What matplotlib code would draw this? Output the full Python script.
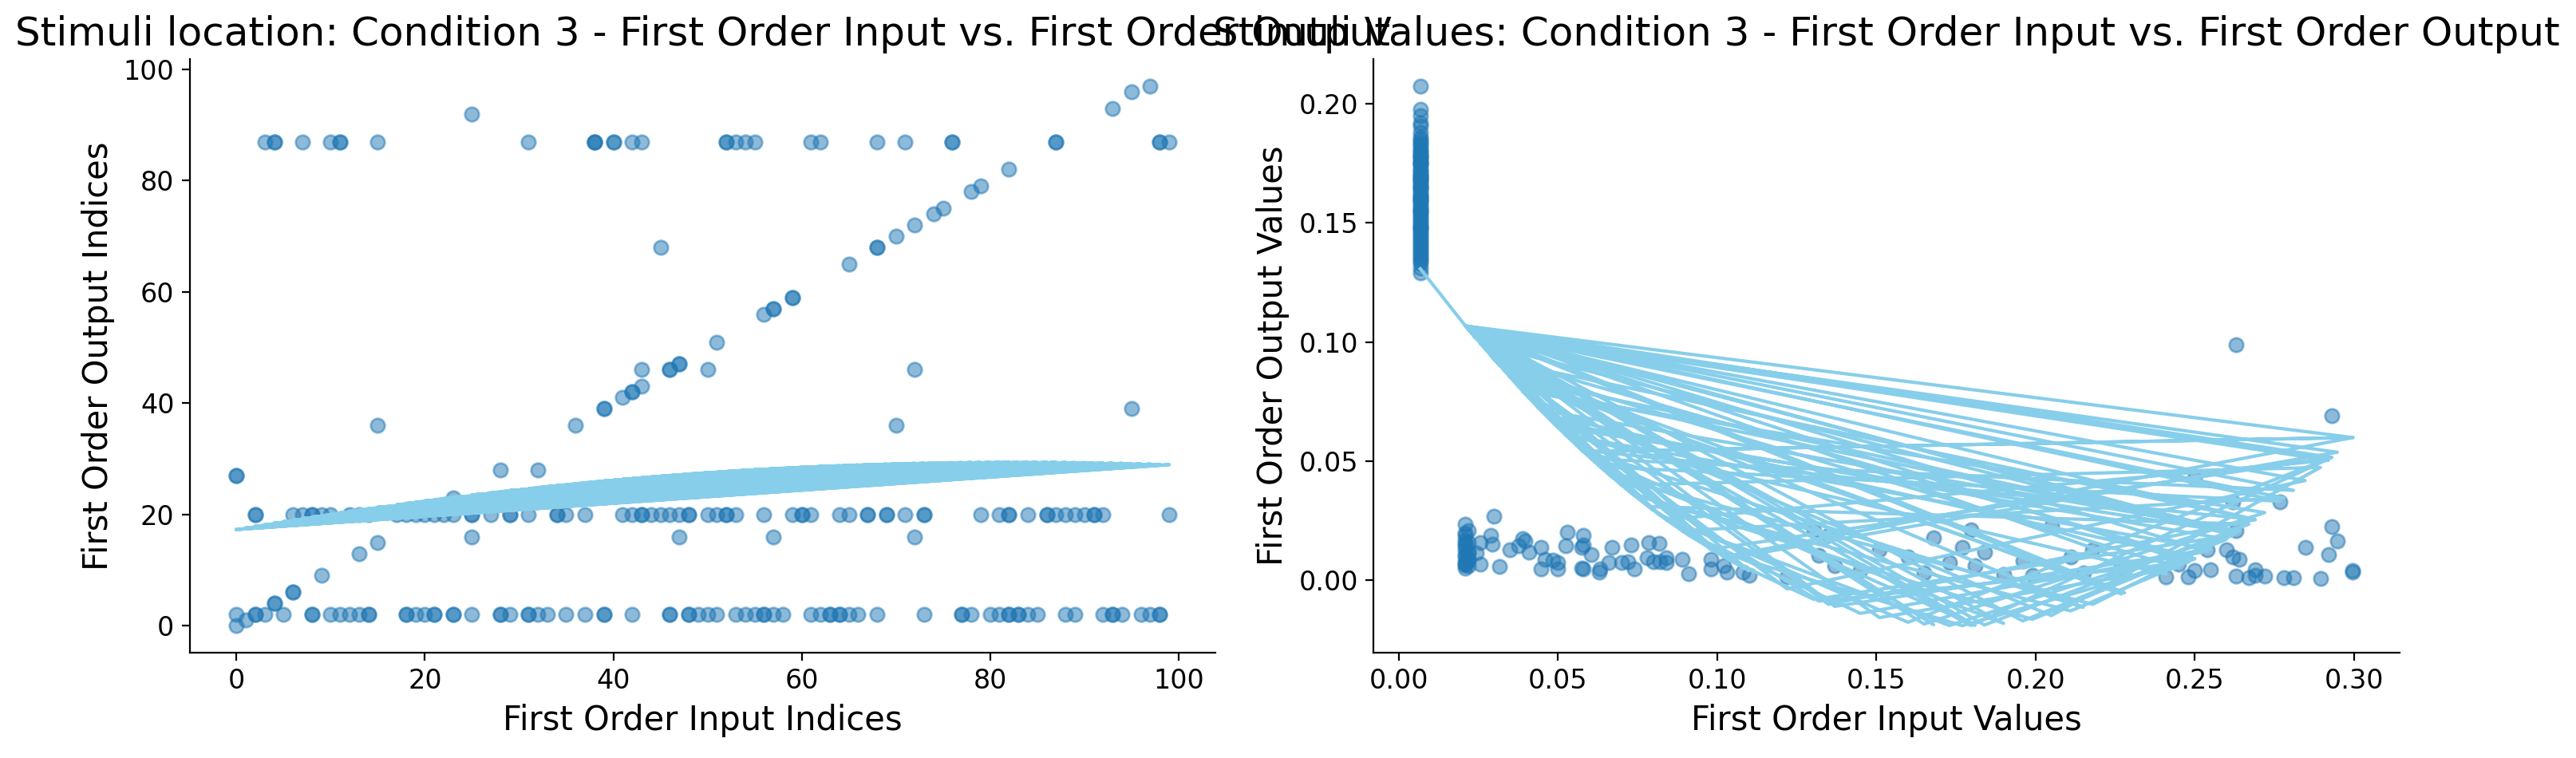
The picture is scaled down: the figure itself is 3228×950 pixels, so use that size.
import matplotlib
matplotlib.use("Agg")
import matplotlib.pyplot as plt
import numpy as np

# ---- left panel: stimuli location (indices) ----
# points on the y = 87 row
row87_x = [3, 4, 4, 7, 10, 11, 11, 15, 31, 38, 38, 38, 40, 40, 42, 43, 52, 52, 53, 54,
           55, 61, 62, 68, 71, 76, 76, 87, 87, 98, 98, 99]
# points on the y = 20 row
row20_x = [2, 2, 6, 7, 8, 8, 9, 10, 12, 13, 14, 17, 18, 19, 20, 21, 22, 23, 25, 25,
           27, 29, 29, 31, 34, 34, 35, 37, 41, 42, 43, 43, 44, 45, 46, 47, 48, 48, 50, 51,
           52, 52, 53, 56, 59, 60, 60, 61, 64, 65, 67, 67, 69, 69, 71, 73, 73, 79, 81, 82,
           82, 84, 86, 86, 87, 88, 89, 90, 91, 91, 92, 99]
# points on the y = 2 row
row2_x = [0, 2, 2, 3, 5, 8, 8, 10, 11, 12, 13, 14, 14, 18, 18, 19, 20, 21, 21, 23,
          23, 25, 28, 28, 29, 31, 31, 32, 33, 35, 37, 39, 39, 42, 46, 46, 48, 48, 49, 50,
          51, 53, 54, 55, 56, 56, 57, 58, 61, 62, 63, 63, 64, 64, 65, 66, 68, 73, 77, 77,
          78, 80, 81, 82, 82, 83, 83, 84, 85, 88, 89, 92, 93, 93, 94, 96, 97, 98, 98]
# remaining points (diagonal and scattered)
other_x = [0, 1, 4, 4, 6, 6, 9, 13, 15, 23, 28, 32, 0, 0, 25, 47, 57, 72, 15, 36,
           70, 95, 39, 39, 41, 42, 42, 43, 43, 46, 46, 47, 47, 50, 72, 51, 56, 57, 57, 59,
           59, 65, 68, 68, 70, 72, 74, 75, 78, 79, 82, 45, 25, 93, 95, 97]
other_y = [0, 1, 4, 4, 6, 6, 9, 13, 15, 23, 28, 28, 27, 27, 16, 16, 16, 16, 36, 36,
           36, 39, 39, 39, 41, 42, 42, 43, 46, 46, 46, 47, 47, 46, 46, 51, 56, 57, 57, 59,
           59, 65, 68, 68, 70, 72, 74, 75, 78, 79, 82, 68, 92, 93, 96, 97]
# quadratic trend coefficients (highest power first)
loc_fit = [-0.001756, 0.2915, 17.30]

# ---- right panel: stimuli values ----
col_x = 0.0068
col_y = [0.2074, 0.1977, 0.195, 0.192, 0.1905, 0.188, 0.186, 0.185, 0.1838, 0.183,
         0.182, 0.1805, 0.180, 0.179, 0.1778, 0.177, 0.176, 0.175, 0.1745, 0.173,
         0.172, 0.1712, 0.170, 0.169, 0.1682, 0.167, 0.166, 0.165, 0.1642, 0.163,
         0.162, 0.1612, 0.160, 0.159, 0.1585, 0.157, 0.156, 0.155, 0.1543, 0.153,
         0.152, 0.151, 0.150, 0.149, 0.1482, 0.147, 0.146, 0.145, 0.1441, 0.143,
         0.142, 0.141, 0.140, 0.139, 0.138, 0.137, 0.136, 0.135, 0.134, 0.133,
         0.131, 0.129, 0.175, 0.17, 0.165, 0.16, 0.155, 0.148, 0.178, 0.168]
# the rest of the trials, in trial order
rest_x = [0.021, 0.2997, 0.058, 0.181, 0.022, 0.263, 0.0376, 0.122, 0.2847, 0.021,
          0.074, 0.211, 0.250, 0.046, 0.021, 0.293, 0.160, 0.0818, 0.022, 0.269,
          0.030, 0.1797, 0.293, 0.098, 0.021, 0.137, 0.255, 0.0525, 0.241, 0.021,
          0.2767, 0.0632, 0.190, 0.0243, 0.022, 0.2948, 0.103, 0.1305, 0.262, 0.021,
          0.0409, 0.205, 0.2895, 0.070, 0.021, 0.151, 0.245, 0.0316, 0.227, 0.022,
          0.292, 0.084, 0.173, 0.263, 0.0499, 0.021, 0.102, 0.2997, 0.058, 0.021,
          0.196, 0.262, 0.0256, 0.168, 0.022, 0.278, 0.089, 0.145, 0.254, 0.021,
          0.067, 0.218, 0.264, 0.0446, 0.021, 0.184, 0.267, 0.0785, 0.110, 0.022,
          0.263, 0.0348, 0.228, 0.021, 0.281, 0.0605, 0.132, 0.248, 0.021, 0.073,
          0.199, 0.260, 0.0484, 0.022, 0.165, 0.272, 0.039, 0.098, 0.177, 0.250,
          0.029, 0.135, 0.269, 0.0575, 0.215, 0.0295, 0.080, 0.0256, 0.0396, 0.0446,
          0.050, 0.053, 0.0575, 0.058, 0.063, 0.066, 0.072, 0.078, 0.082, 0.084,
          0.091, 0.108]
rest_y = [0.0235, 0.004, 0.015, 0.006, 0.016, 0.099, 0.0146, 0.0015, 0.014, 0.011,
          0.0047, 0.010, 0.043, 0.009, 0.007, 0.069, 0.010, 0.0155, 0.012, 0.0045,
          0.027, 0.0213, 0.0225, 0.0047, 0.019, 0.006, 0.0045, 0.0146, 0.0015, 0.005,
          0.033, 0.0047, 0.0025, 0.0114, 0.009, 0.0164, 0.0036, 0.021, 0.010, 0.0145,
          0.012, 0.023, 0.0007, 0.0075, 0.0065, 0.013, 0.0067, 0.0057, 0.007, 0.021,
          0.0107, 0.0095, 0.0074, 0.0018, 0.0075, 0.013, 0.0063, 0.0035, 0.019, 0.0155,
          0.0083, 0.033, 0.016, 0.018, 0.0085, 0.0013, 0.009, 0.004, 0.0127, 0.010,
          0.0137, 0.0128, 0.009, 0.0047, 0.017, 0.0118, 0.0013, 0.016, 0.002, 0.006,
          0.021, 0.013, 0.004, 0.008, 0.0013, 0.011, 0.0105, 0.0015, 0.020, 0.015,
          0.002, 0.0127, 0.0085, 0.0115, 0.003, 0.0018, 0.0174, 0.009, 0.0137, 0.004,
          0.019, 0.019, 0.002, 0.005, 0.003, 0.0152, 0.008, 0.0067, 0.0166, 0.0137,
          0.0047, 0.0201, 0.0137, 0.0047, 0.0036, 0.0075, 0.008, 0.0095, 0.008, 0.0075,
          0.0027, 0.0036]
val_fit = [5.2, -1.8356, 0.1430]

# assemble the left panel
loc_x = np.array(row87_x + row20_x + row2_x + other_x, dtype=float)
loc_y = np.array([87] * len(row87_x) + [20] * len(row20_x) + [2] * len(row2_x) + other_y, dtype=float)

# trial order for the left panel: alternate low/high input index
o = np.argsort(loc_x, kind="stable")
n = len(o)
zig = np.empty_like(o)
zig[0::2] = o[:(n + 1) // 2]
zig[1::2] = o[::-1][:n // 2]
loc_x, loc_y = loc_x[zig], loc_y[zig]

val_x = np.array([col_x] * len(col_y) + rest_x)
val_y = np.array(col_y + rest_y)

plt.rcParams.update({"font.size": 12})
fig, axes = plt.subplots(1, 2, figsize=(16.14, 4.75), dpi=200)
fig.subplots_adjust(left=0.0737, right=0.9315, bottom=0.139, top=0.922, wspace=0.154)

panels = [
    (axes[0], loc_x, loc_y, loc_fit, "Stimuli location", "Indices"),
    (axes[1], val_x, val_y, val_fit, "Stimuli Values", "Values"),
]
for ax, xs, ys, coef, name, kind in panels:
    ax.scatter(xs, ys, alpha=0.5, color="#1f77b4", s=40)
    # trend line evaluated at the trial inputs, in trial order (not sorted)
    ax.plot(xs, np.polyval(coef, xs), color="skyblue", lw=1.5)
    ax.set_title(f"{name}: Condition 3 - First Order Input vs. First Order Output", fontsize=18)
    ax.set_xlabel(f"First Order Input {kind}", fontsize=15)
    ax.set_ylabel(f"First Order Output {kind}", fontsize=15)
    ax.spines["top"].set_visible(False)
    ax.spines["right"].set_visible(False)

axes[0].set_xticks([0, 20, 40, 60, 80, 100])
axes[1].set_xticks([0.0, 0.05, 0.10, 0.15, 0.20, 0.25, 0.30])

plt.savefig("out.png", dpi=200)
